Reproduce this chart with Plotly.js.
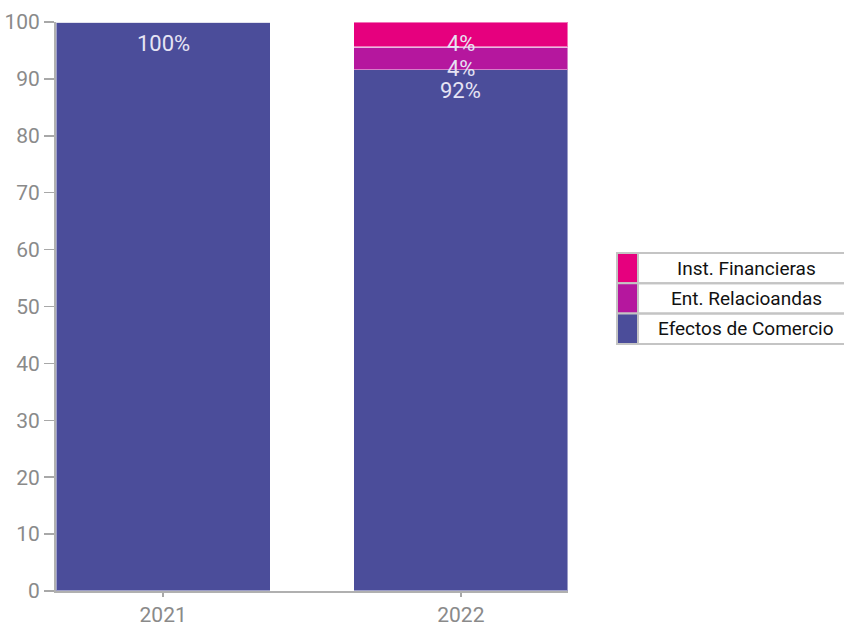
<!DOCTYPE html>
<html>
<head>
<meta charset="utf-8">
<script src="https://cdn.plot.ly/plotly-3.0.1.min.js"></script>
<style>html,body{margin:0;padding:0;background:#fff;}#chart{width:844px;height:624px;}</style>
</head>
<body>
<div id="chart"></div>
<script>
// ---- data ----
const years = ['2021', '2022'];
const efectosComercio = [100, 91.6];
const entRelacionadas = [0, 4.0];
const instFinancieras = [0, 4.4];
const efectosLabels = ['100%', '92%'];
const entLabels = ['', '4%'];
const instLabels = ['', '4%'];
const seriesNames = ['Efectos de Comercio', 'Ent. Relacioandas', 'Inst. Financieras'];
const seriesColors = ['#4B4D9A', '#B5179E', '#E6007E'];
const yTicks = [0, 10, 20, 30, 40, 50, 60, 70, 80, 90, 100];

// ---- layout constants ----
const W = 844, H = 624;
const M = {l: 56, r: 276, t: 22, b: 33};
const pw = W - M.l - M.r, ph = H - M.t - M.b;
const px2x = px => (px - M.l) / pw;
const px2y = py => (H - M.b - py) / ph;

const values = [efectosComercio, entRelacionadas, instFinancieras];
const labels = [efectosLabels, entLabels, instLabels];

const traces = values.map((v, i) => ({
  type: 'bar',
  name: seriesNames[i],
  x: years,
  y: v,
  marker: {color: seriesColors[i], line: {color: 'rgba(255,255,255,0.45)', width: 1.2}},
  hoverinfo: 'x+y+name'
}));

const annotations = [];
// segment labels: placed just below each segment's top, via data coordinates
years.forEach((yr, j) => {
  let cum = 0;
  values.forEach((v, i) => {
    cum += v[j];
    if (labels[i][j]) {
      annotations.push({xref: 'x', yref: 'y', x: j, y: cum, yshift: -21,
        text: labels[i][j], showarrow: false, xanchor: 'center', yanchor: 'middle',
        font: {family: 'Roboto', size: 22, color: '#E6E4F4'}});
    }
  });
});

// legend drawn as a bordered table (top to bottom: reverse of stack order)
const shapes = [];
const legX0 = 617, legXs = 638, legX1 = 860, legY0 = 253, rowH = 30.3;
const order = [2, 1, 0];
order.forEach((si, r) => {
  const y0 = legY0 + r * rowH, y1 = y0 + rowH;
  shapes.push({type: 'rect', xref: 'paper', yref: 'paper',
    x0: px2x(legX0), x1: px2x(legXs), y0: px2y(y1), y1: px2y(y0),
    fillcolor: seriesColors[si], line: {color: '#C4C4C4', width: 2}});
  shapes.push({type: 'rect', xref: 'paper', yref: 'paper',
    x0: px2x(legXs), x1: px2x(legX1), y0: px2y(y1), y1: px2y(y0),
    fillcolor: 'rgba(0,0,0,0)', line: {color: '#C4C4C4', width: 2}});
  annotations.push({xref: 'paper', yref: 'paper', x: px2x(746), y: px2y((y0 + y1) / 2),
    text: seriesNames[si], showarrow: false, xanchor: 'center', yanchor: 'middle',
    font: {family: 'Roboto', size: 19, color: '#111'}});
});

const layout = {
  width: W, height: H,
  margin: M,
  barmode: 'stack',
  bargap: 0.28,
  showlegend: false,
  paper_bgcolor: '#fff', plot_bgcolor: '#fff',
  font: {family: 'Roboto', size: 20, color: '#8A8A8A'},
  xaxis: {
    type: 'category', range: [-0.36, 1.36],
    showline: true, linecolor: '#B0B0B0', linewidth: 2,
    ticks: 'outside', ticklen: 4, tickcolor: '#A8A8A8', tickwidth: 1.5,
    tickfont: {family: 'Roboto', size: 21, color: '#8A8A8A'},
    showgrid: false, zeroline: false, fixedrange: true
  },
  yaxis: {
    range: [0, 100], tickvals: yTicks,
    showline: true, linecolor: '#B0B0B0', linewidth: 2,
    ticks: 'outside', ticklen: 10, tickcolor: '#A8A8A8', tickwidth: 1.5,
    tickfont: {family: 'Roboto', size: 21, color: '#8A8A8A'},
    showgrid: false, zeroline: false, fixedrange: true
  },
  shapes: shapes,
  annotations: annotations
};

Plotly.newPlot('chart', traces, layout, {displayModeBar: false, staticPlot: true});
</script>
</body>
</html>
